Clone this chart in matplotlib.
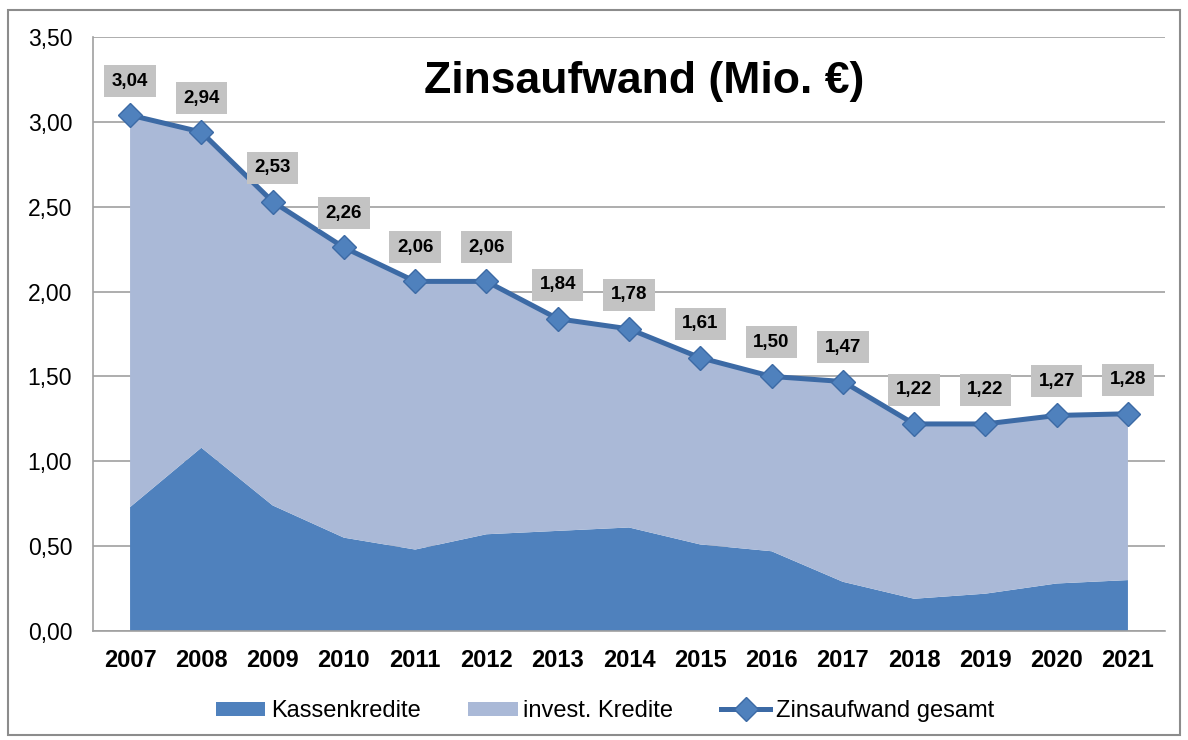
import matplotlib.pyplot as plt
from matplotlib.patches import Rectangle

plt.rcParams['font.family'] = ['Liberation Sans', 'DejaVu Sans']

years = ['2007', '2008', '2009', '2010', '2011', '2012', '2013', '2014',
         '2015', '2016', '2017', '2018', '2019', '2020', '2021']
gesamt = [3.04, 2.94, 2.53, 2.26, 2.06, 2.06, 1.84, 1.78,
          1.61, 1.50, 1.47, 1.22, 1.22, 1.27, 1.28]
kassen = [0.73, 1.08, 0.74, 0.55, 0.48, 0.57, 0.59, 0.61,
          0.51, 0.47, 0.29, 0.19, 0.22, 0.28, 0.30]
invest = [round(g - k, 2) for g, k in zip(gesamt, kassen)]

x = list(range(len(years)))

fig = plt.figure(figsize=(11.88, 7.4), dpi=100)
ax = fig.add_axes([93 / 1188, 1 - 631 / 740, (1165 - 93) / 1188, (631 - 37) / 740])

ax.stackplot(x, kassen, invest, colors=['#4f81bd', '#aab9d7'],
             labels=['Kassenkredite', 'invest. Kredite'], zorder=2)
ax.plot(x, gesamt, color='#3c6aa5', lw=3.6, marker='D', markersize=12.5,
        markerfacecolor='#4f81bd', markeredgecolor='#3c6aa5', markeredgewidth=1,
        label='Zinsaufwand gesamt', zorder=4)

for xi, v in zip(x, gesamt):
    ax.annotate(f'{v:.2f}'.replace('.', ','), (xi, v), xytext=(0, 24.5),
                textcoords='offset points', ha='center', va='center',
                fontsize=13.5, fontweight='bold',
                bbox=dict(boxstyle='square,pad=0.4', fc='#c3c3c3', ec='none'),
                zorder=5)

ax.set_xlim(-0.52, len(years) - 0.48)
ax.set_ylim(0, 3.5)
ax.set_yticks([i * 0.5 for i in range(8)])
ax.set_yticklabels([f'{i * 0.5:.2f}'.replace('.', ',') for i in range(8)], fontsize=16.5)
ax.set_xticks(x)
ax.set_xticklabels(years, fontsize=17, fontweight='bold')
ax.tick_params(axis='x', length=0, pad=13)
ax.tick_params(axis='y', length=0, pad=15)
ax.grid(axis='y', color='#a0a0a0', lw=1.2, zorder=0)
ax.set_axisbelow(True)
for s in ['top', 'right']:
    ax.spines[s].set_visible(False)
ax.spines['left'].set_color('#a0a0a0')
ax.spines['bottom'].set_color('#a0a0a0')
ax.spines['left'].set_linewidth(1.2)
ax.spines['bottom'].set_linewidth(1.2)

ax.text(0.5145, 0.925, 'Zinsaufwand (Mio. €)', transform=ax.transAxes,
        ha='center', va='center', fontsize=32, fontweight='bold', zorder=6)

fig.legend(loc='center', bbox_to_anchor=(605 / 1188, 1 - 711 / 740), ncol=3,
           frameon=False, fontsize=17, handlelength=2.1, columnspacing=2.0,
           handletextpad=0.25, handleheight=0.55)

fig.patches.append(Rectangle((8 / 1188, 1 - 735 / 740), 1172 / 1188, 725 / 740,
                             transform=fig.transFigure, fill=False,
                             ec='#8c8c8c', lw=1.5))

fig.savefig('out.png', dpi=100)
